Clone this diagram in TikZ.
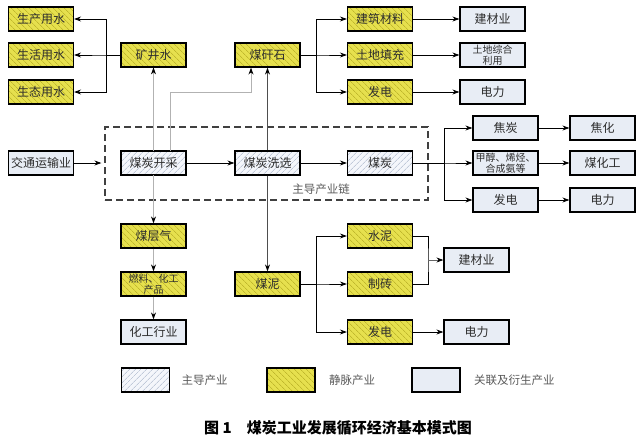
\documentclass[tikz,border=0pt]{standalone}
\usepackage{fontspec}
\setmainfont{Noto Sans CJK SC}
\usetikzlibrary{positioning,arrows.meta,patterns.meta}
\definecolor{mainfill}{RGB}{244,246,251}
\definecolor{mainline}{RGB}{165,178,200}
\definecolor{veinfill}{RGB}{230,224,78}
\definecolor{veinline}{RGB}{192,184,44}
\definecolor{relfill}{RGB}{238,242,249}
\definecolor{reldot}{RGB}{175,186,205}
\definecolor{boxtext}{RGB}{45,45,45}
\definecolor{lgray}{RGB}{178,178,178}
\definecolor{dgray}{RGB}{78,78,78}
\newcommand{\fan}[5]{%
	% #1 source node, #2 its anchor, #3 bus coordinate, #4 target anchor, #5 targets
	\foreach \t in {#5}{%
		\draw[link,->] (#1.#2) -- (#1.#2 -| #3) |- (\t.#4);}%
}

\begin{document}
\begin{tikzpicture}[x=1pt,y=-1pt,>={Stealth[length=7pt,width=5pt,color=black]},
	box/.style={draw, line width=1.2pt, minimum width=65pt, minimum height=24pt, inner sep=1pt,
		align=center, text=boxtext, font=\fontsize{12}{13}\selectfont},
	mainind/.style={box, preaction={fill=mainfill}, pattern={Lines[angle=45,distance=4pt,line width=0.6pt]}, pattern color=mainline},
	vein/.style={box, preaction={fill=veinfill}, pattern={Lines[angle=-45,distance=4pt,line width=0.8pt]}, pattern color=veinline},
	relind/.style={box, preaction={fill=relfill}, pattern={Dots[distance=2pt,radius=0.4pt]}, pattern color=reldot},
	small/.style={font=\fontsize{10}{10.5}\selectfont},
	link/.style={line width=0.8pt, black},
	glink/.style={line width=1pt, lgray},
	dlink/.style={line width=1.8pt, dgray},
	legtext/.style={text=black!65, font=\fontsize{11.5}{12}\selectfont}]
	\useasboundingbox (0,0) rectangle (640,439);
	
	%--- main industry chain (dashed frame) ---
	\node[draw=black!75, line width=1.2pt, dash pattern=on 7pt off 4pt, minimum width=323pt, minimum height=73pt] (chain) at (266.5,163.5) {};
	\node[legtext] (chainlbl) at (321,189) {主导产业链};
	
	\node[relind] (traffic) at (41,163) {交通运输业};
	\node[mainind] (mining) at (153.5,163) {煤炭开采};
	\node[mainind] (wash) at (267.5,163) {煤炭洗选};
	\node[mainind] (coal) at (380,163) {煤炭};
	
	%--- mine water ---
	\node[vein] (mine) at (153.5,55) {矿井水};
	\node[vein] (prodw) at (41,19) {生产用水};
	\node[vein] (lifew) at (41,55) {生活用水};
	\node[vein] (ecow) at (41,92) {生态用水};
	
	%--- coal gangue ---
	\node[vein] (gangue) at (267.5,55) {煤矸石};
	\node[vein] (build) at (380,19) {建筑材料};
	\node[vein] (fill) at (380,55) {土地填充};
	\node[vein] (powg) at (380,92) {发电};
	\node[relind] (bmat) at (492.5,19) {建材业};
	\node[relind, small] (land) at (492.5,55) {土地综合\\利用};
	\node[relind] (elecg) at (492.5,92) {电力};
	
	%--- coal products ---
	\node[relind] (coke) at (505.5,128) {焦炭};
	\node[relind, small] (chem) at (505.5,163) {甲醇、烯烃、\\合成氨等};
	\node[relind] (powc) at (505.5,200) {发电};
	\node[relind] (cokeind) at (602.5,128) {焦化};
	\node[relind] (coalchem) at (602.5,163) {煤化工};
	\node[relind] (elecc) at (602.5,200) {电力};
	
	%--- coal bed methane ---
	\node[vein] (cbm) at (153.5,236) {煤层气};
	\node[vein, small] (fuel) at (153.5,284) {燃料、化工\\产品};
	\node[relind] (chemind) at (153.5,332) {化工行业};
	
	%--- coal slime ---
	\node[vein] (slime) at (267.5,284) {煤泥};
	\node[vein] (cement) at (380,236) {水泥};
	\node[vein] (brick) at (380,284) {制砖};
	\node[vein] (pows) at (380,332) {发电};
	\node[relind] (bmat2) at (476.5,260) {建材业};
	\node[relind] (elecs) at (476.5,332) {电力};
	
	%--- bus lines ---
	\coordinate (busW) at (106,0);
	\coordinate (busG) at (316,0);
	\coordinate (busC) at (444,0);
	\coordinate (busB) at (428,260);
	\coordinate (kink) at (170,92);
	
	% main chain
	\draw[link,->,shorten >=3pt] (traffic) -- (traffic -| chain.west);
	\draw[link,->] (mining) -- (wash);
	\draw[link,->] (wash) -- (coal);
	\fan{coal}{east}{busC}{west}{coke,chem,powc}
	\foreach \a/\b in {coke/cokeind,chem/coalchem,powc/elecc}{
		\draw[link,->] (\a) -- (\b);}
	
	% mine water
	\draw[glink,->] (mining.north) -- (mine.south);
	\fan{mine}{west}{busW}{east}{prodw,lifew,ecow}
	
	% gangue
	\draw[glink,->] (kink |- mining.north) -- (kink) -| ([xshift=-16.5pt]gangue.south);
	\draw[dlink,->] (wash.north) -- (gangue.south);
	\fan{gangue}{east}{busG}{west}{build,fill,powg}
	\foreach \a/\b in {build/bmat,fill/land,powg/elecg}{
		\draw[link,->] (\a) -- (\b);}
	
	% methane
	\draw[glink,->] (mining.south) -- (cbm.north);
	\draw[glink,->] (cbm) -- (fuel);
	\draw[glink,->] (fuel) -- (chemind);
	
	% slime
	\draw[dlink,->] (wash.south) -- (slime.north);
	\fan{slime}{east}{busG}{west}{cement,brick,pows}
	\draw[link] (cement.east) -| (busB) |- (brick.east);
	\draw[link,black!60,->] (busB) -- (bmat2.west);
	\draw[link,->] (pows) -- (elecs);
	
	%--- legend ---
	\node[mainind, minimum width=48pt] (legmain) at (145.5,380) {};
	\node[legtext, right=8pt of legmain] (legmaintxt) {主导产业};
	\node[vein, minimum width=48pt] (legvein) at (291,380) {};
	\node[legtext, right=10pt of legvein] (legveintxt) {静脉产业};
	\node[relind, minimum width=48pt] (legrel) at (436,380) {};
	\node[legtext, right=10pt of legrel] (legreltxt) {关联及衍生产业};
	
	% caption
	\node[font=\fontsize{15}{16}\selectfont\bfseries] (caption) at (338,428) {图 1\quad 煤炭工业发展循环经济基本模式图};
\end{tikzpicture}
\end{document}
